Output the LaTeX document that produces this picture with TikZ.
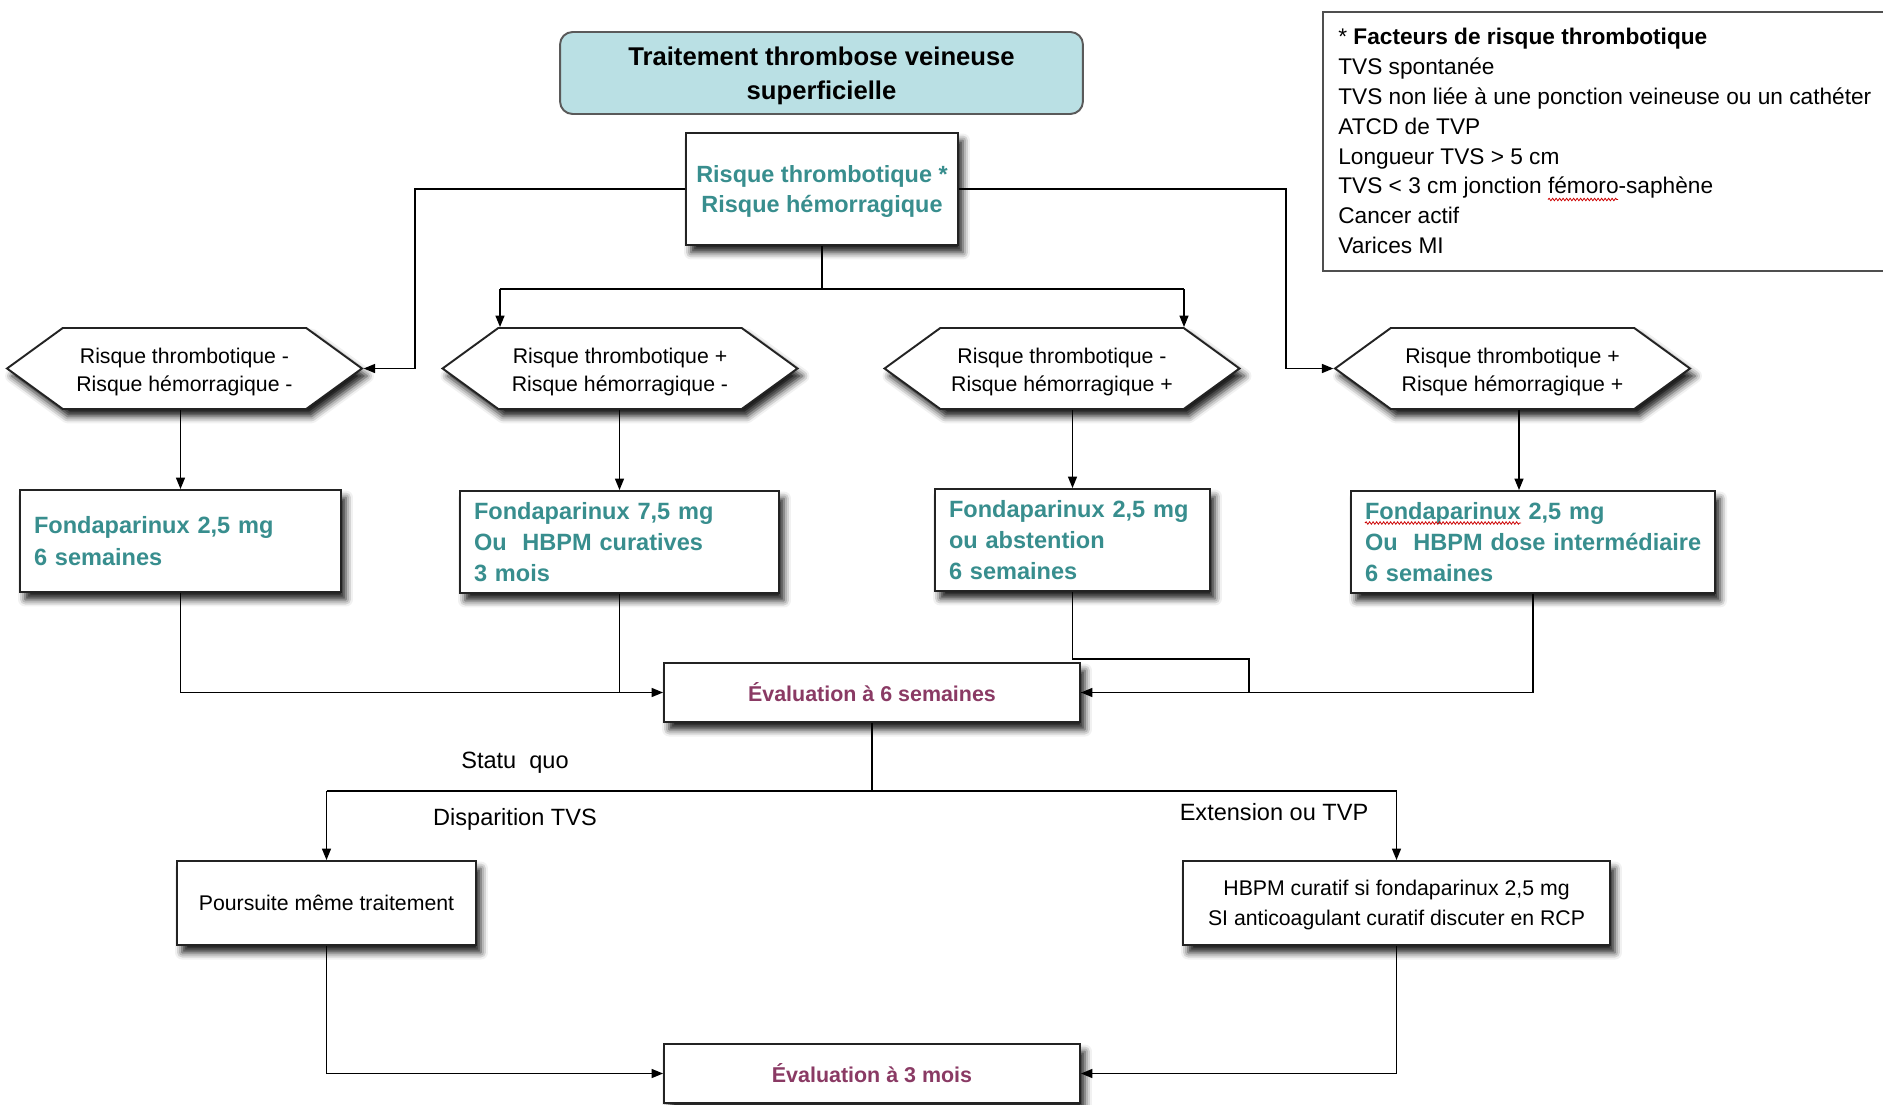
\documentclass[tikz,border=0pt]{standalone}
\usepackage{fontspec}
\setmainfont{Liberation Sans}
\usetikzlibrary{arrows.meta,shapes.symbols,shadows.blur,decorations.pathmorphing}
\definecolor{tealtxt}{RGB}{56,142,142}
\definecolor{plum}{RGB}{138,58,100}
\definecolor{titlefill}{RGB}{186,224,228}
\definecolor{edge}{RGB}{35,35,35}
% invisible strut that lowers the first line of a multi-line node
\newcommand{\toplift}[1]{\rule{0pt}{#1}}

\begin{document}
\begin{tikzpicture}[x=0.02cm,y=-0.02cm,
  softshadow/.style={blur shadow={shadow xshift=0.1cm, shadow yshift=-0.15cm,
      shadow blur radius=0.14cm, shadow opacity=90}},
  box/.style={draw=edge, line width=1.1pt, fill=white, softshadow},
  titlebox/.style={draw=edge!75, line width=1.1pt, fill=titlefill,
      rounded corners=0.25cm, minimum width=10.46cm, minimum height=1.64cm,
      align=center, font=\bfseries\fontsize{14.6pt}{19.3pt}\selectfont},
  riskbox/.style={box, minimum width=5.44cm, minimum height=2.24cm,
      align=center, text=tealtxt, font=\bfseries\fontsize{13.35pt}{17.6pt}\selectfont},
  hexa/.style={box, shape=signal, signal to=west and east, signal pointer angle=72,
      minimum width=7.1cm, minimum height=1.62cm, inner sep=0pt, align=center,
      font=\fontsize{12.1pt}{16.2pt}\selectfont},
  treat/.style={box, minimum height=2.04cm, inner xsep=0.28cm, align=left,
      text=tealtxt, font=\bfseries\fontsize{13.4pt}{17.8pt}\selectfont},
  evalbox/.style={box, minimum width=8.32cm, minimum height=1.18cm,
      text=plum, font=\bfseries\fontsize{12.2pt}{15pt}\selectfont},
  plainbox/.style={box, minimum height=1.68cm, align=center,
      font=\fontsize{12.1pt}{17.1pt}\selectfont},
  lbl/.style={inner sep=0pt, font=\fontsize{13.4pt}{16pt}\selectfont},
  leg/.style={anchor=base west, inner sep=0pt, font=\fontsize{12.9pt}{17pt}\selectfont},
  conn/.style={draw=black, line width=0.85pt},
  arr/.style={conn, -{Triangle[length=0.23cm, width=0.18cm]}},
  squiggle/.style={draw=red!80!black, line width=0.45pt, decorate,
      decoration={snake, amplitude=0.025cm, segment length=0.07cm}}
]
\useasboundingbox (0,0) rectangle (1883,1105);

% title
\node[titlebox] (title) at (821.5,73) {\toplift{13.4pt}Traitement thrombose veineuse\\superficielle};

% legend of thrombotic risk factors
\draw[edge!80, line width=1pt] (1883,12) -- (1323,12) -- (1323,271) -- (1883,271);
\node[leg] (leg1) at (1338,44.5) {* \textbf{Facteurs de risque thrombotique}};
\node[leg] (leg2) at (1338,74.4) {TVS spontanée};
\node[leg] (leg3) at (1338,104.3) {TVS non liée à une ponction veineuse ou un cathéter};
\node[leg] (leg4) at (1338,134.2) {ATCD de TVP};
\node[leg] (leg5) at (1338,164.1) {Longueur TVS > 5 cm};
\node[leg] (leg6) at (1338,194.0) {TVS < 3 cm jonction fémoro-saphène};
\node[leg] (leg7) at (1338,223.9) {Cancer actif};
\node[leg] (leg8) at (1338,253.8) {Varices MI};
\draw[squiggle] (1548,199.5) -- (1618,199.5);

% risk assessment
\node[riskbox] (risk) at (822,189) {\toplift{12.5pt}Risque thrombotique *\\Risque hémorragique};

% four risk profiles
\node[hexa] (h1) at (184.5,368.5) {\toplift{12.6pt}Risque thrombotique -\\Risque hémorragique -};
\node[hexa] (h2) at (620,368.5) {\toplift{12.6pt}Risque thrombotique +\\Risque hémorragique -};
\node[hexa] (h3) at (1062,368.5) {\toplift{12.6pt}Risque thrombotique -\\Risque hémorragique +};
\node[hexa] (h4) at (1512.5,368.5) {\toplift{12.6pt}Risque thrombotique +\\Risque hémorragique +};

% treatments
\node[treat, text width=5.86cm] (t1) at (180.5,541) {Fondaparinux 2,5 mg\\6 semaines};
\node[treat, text width=5.82cm] (t2) at (619.5,542) {Fondaparinux 7,5 mg\\\mbox{Ou\ \ HBPM curatives}\\3 mois};
\node[treat, text width=4.94cm] (t3) at (1072.5,540) {Fondaparinux 2,5 mg\\ou abstention\\6 semaines};
\node[treat, text width=6.72cm] (t4) at (1533,542) {Fondaparinux 2,5 mg\\\mbox{Ou\ \ HBPM dose intermédiaire}\\6 semaines};
\draw[squiggle] (1365,523) -- (1521,523);

% evaluations and outcomes
\node[evalbox] (e6) at (872,692.5) {Évaluation à 6 semaines};
\node[plainbox, minimum width=5.98cm] (p) at (326.5,903) {Poursuite même traitement};
\node[plainbox, minimum width=8.54cm] (hb) at (1396.5,903) {\toplift{11.5pt}HBPM curatif si fondaparinux 2,5 mg\\SI anticoagulant curatif discuter en RCP};
\node[evalbox] (e3) at (872,1073.5) {Évaluation à 3 mois};

\node[lbl] (sq) at (515,763) {Statu\ \ quo};
\node[lbl] (dis) at (515,819) {Disparition TVS};
\node[lbl] (ext) at (1274,812) {Extension ou TVP};

% junction points
\coordinate (jl) at (415,189);
\coordinate (jr) at (1286,189);
\coordinate (split) at (822,289);
\coordinate (a2) at (500,289);
\coordinate (a3) at (1184,289);
\coordinate (k3) at (1249,659);
\coordinate (ol) at (326.5,791);
\coordinate (or) at (1396.5,791);

% connectors from the risk assessment
\draw[arr] (risk.west) -- (jl) |- (h1.east);
\draw[arr] (risk.east) -- (jr) |- (h4.west);
\draw[conn] (risk.south) -- (split);
\draw[conn] (a2) -- (a3);
\draw[arr] (a2) -- (a2 |- h2.north);
\draw[arr] (a3) -- (a3 |- h3.north);

% profiles to treatments
\draw[arr] (t1.north |- h1.south) -- (t1.north);
\draw[arr] (t2.north |- h2.south) -- (t2.north);
\draw[arr] (t3.north |- h3.south) -- (t3.north);
\draw[arr] ([xshift=0.13cm]h4.south) -- ([xshift=0.13cm]h4.south |- t4.north);

% treatments to the 6-week evaluation
\draw[arr] (t1.south) |- (e6.west);
\draw[conn] (t2.south) -- (t2.south |- e6.west);
\draw[conn] (t3.south) |- (k3) |- (e6.east);
\draw[arr] (t4.south) |- (e6.east);

% outcomes
\draw[conn] (e6.south) -- (e6.south |- ol);
\draw[conn] (ol) -- (or);
\draw[arr] (ol) -- (p.north);
\draw[arr] (or) -- (hb.north);
\draw[arr] (p.south) |- (e3.west);
\draw[arr] (hb.south) |- (e3.east);
\end{tikzpicture}
\end{document}
